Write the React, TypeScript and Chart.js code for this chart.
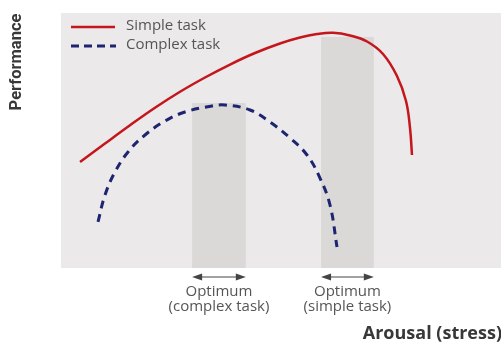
import React, { useEffect, useRef } from "react";
import { Chart, registerables } from "chart.js";

Chart.register(...registerables);

// Arousal (x, 0-100) and performance (y, 0-100)
const simpleX = [4.32, 10.0, 15.68, 21.36, 27.05, 32.73, 38.41, 44.09, 49.77, 54.32, 58.18, 61.82, 65.68, 69.55, 73.18, 76.36, 78.41, 79.32, 79.77];
const simpleY = [41.57, 48.82, 55.98, 62.84, 69.12, 74.71, 79.8, 84.31, 88.04, 90.39, 91.73, 92.24, 91.18, 88.82, 83.92, 75.29, 65.49, 54.9, 44.31];
const complexX = [8.41, 10.0, 12.27, 15.23, 19.09, 23.64, 28.18, 34.32, 37.27, 42.95, 47.5, 52.05, 55.91, 58.86, 61.14, 62.73];
const complexY = [18.04, 28.63, 37.65, 45.49, 52.16, 57.65, 61.18, 63.53, 63.92, 61.96, 57.25, 50.98, 44.31, 35.29, 24.71, 8.24];

// Optimum bands: [xStart, xEnd, top]
const bandComplex = [29.8, 42.0, 64.7];
const bandSimple = [59.1, 71.1, 90.6];

const seriesLabels = ["Simple task", "Complex task"];
const optimumLabels = [["Optimum", "(complex task)"], ["Optimum", "(simple task)"]];
const xTitle = "Arousal (stress)";
const yTitle = "Performance";

const RED = "#c4161c";
const BLUE = "#1d2470";
const FONT = "'Open Sans', 'Noto Sans', sans-serif";
const BOLD = "Roboto, 'Open Sans', sans-serif";

export default function App() {
  const ref = useRef<HTMLCanvasElement>(null);
  useEffect(() => {
    const canvas = ref.current!;
    const bands = [bandComplex, bandSimple];
    const decor = {
      id: "decor",
      beforeDatasetsDraw(chart: any) {
        const { ctx, chartArea: a, scales } = chart;
        const xs = scales.x, ys = scales.y;
        ctx.save();
        ctx.fillStyle = "#ebe9ea";
        ctx.fillRect(a.left, a.top, a.right - a.left, a.bottom - a.top);
        ctx.fillStyle = "#dbd8d8";
        for (const b of bands) {
          const x0 = xs.getPixelForValue(b[0]);
          const x1 = xs.getPixelForValue(b[1]);
          const yt = ys.getPixelForValue(b[2]);
          ctx.fillRect(x0, yt, x1 - x0, a.bottom - yt);
        }
        ctx.restore();
      },
      afterDraw(chart: any) {
        const { ctx, chartArea: a, scales } = chart;
        const xs = scales.x;
        ctx.save();
        // legend
        ctx.lineWidth = 2.5;
        ctx.strokeStyle = RED;
        ctx.beginPath(); ctx.moveTo(71, 27); ctx.lineTo(115, 27); ctx.stroke();
        ctx.strokeStyle = BLUE;
        ctx.lineWidth = 3;
        ctx.setLineDash([8, 5]);
        ctx.beginPath(); ctx.moveTo(71, 46); ctx.lineTo(116, 46); ctx.stroke();
        ctx.setLineDash([]);
        ctx.fillStyle = "#555555";
        ctx.font = `15px ${FONT}`;
        ctx.textBaseline = "middle";
        ctx.textAlign = "left";
        ctx.fillText(seriesLabels[0], 126, 26);
        ctx.fillText(seriesLabels[1], 126, 45);
        // arrows + optimum labels
        bands.forEach((b, i) => {
          const x0 = xs.getPixelForValue(b[0]);
          const x1 = xs.getPixelForValue(b[1]);
          const y = a.bottom + 9;
          ctx.strokeStyle = "#444";
          ctx.fillStyle = "#444";
          ctx.lineWidth = 1.2;
          ctx.beginPath(); ctx.moveTo(x0 + 4, y); ctx.lineTo(x1 - 4, y); ctx.stroke();
          ctx.beginPath(); ctx.moveTo(x0, y); ctx.lineTo(x0 + 10, y - 3.5); ctx.lineTo(x0 + 10, y + 3.5); ctx.closePath(); ctx.fill();
          ctx.beginPath(); ctx.moveTo(x1, y); ctx.lineTo(x1 - 10, y - 3.5); ctx.lineTo(x1 - 10, y + 3.5); ctx.closePath(); ctx.fill();
          const cx = (x0 + x1) / 2;
          ctx.fillStyle = "#555555";
          ctx.font = `15px ${FONT}`;
          ctx.textAlign = "center";
          ctx.fillText(optimumLabels[i][0], cx, a.bottom + 24);
          ctx.fillText(optimumLabels[i][1], cx, a.bottom + 39);
        });
        // axis titles
        ctx.fillStyle = "#383838";
        ctx.font = `bold 18px ${FONT}`;
        ctx.textAlign = "right";
        ctx.fillText(xTitle, 502, 334);
        ctx.translate(17, 62);
        ctx.rotate(-Math.PI / 2);
        ctx.textAlign = "center";
        ctx.font = `bold 16.5px ${BOLD}`;
        ctx.fillText(yTitle, 0, 0);
        ctx.restore();
      },
    };
    const chart = new Chart(canvas, {
      type: "line",
      data: {
        datasets: [
          {
            label: seriesLabels[0],
            data: simpleX.map((x, i) => ({ x, y: simpleY[i] })),
            borderColor: RED,
            borderWidth: 2.5,
            pointRadius: 0,
            tension: 0.4,
            fill: false,
          },
          {
            label: seriesLabels[1],
            data: complexX.map((x, i) => ({ x, y: complexY[i] })),
            borderColor: BLUE,
            borderWidth: 3,
            borderDash: [8, 6],
            pointRadius: 0,
            tension: 0.4,
            fill: false,
          },
        ],
      },
      options: {
        responsive: false,
        animation: false,
        layout: { padding: { left: 61, top: 13, right: 0, bottom: 75 } },
        scales: {
          x: { type: "linear", min: 0, max: 100, display: false },
          y: { min: 0, max: 100, display: false },
        },
        plugins: { legend: { display: false }, tooltip: { enabled: false } },
      },
      plugins: [decor],
    });
    return () => chart.destroy();
  }, []);
  return (
    <div style={{ position: "fixed", left: 0, top: 0, width: 501, height: 343, background: "#fff" }}>
      <canvas ref={ref} width={501} height={343} />
    </div>
  );
}
